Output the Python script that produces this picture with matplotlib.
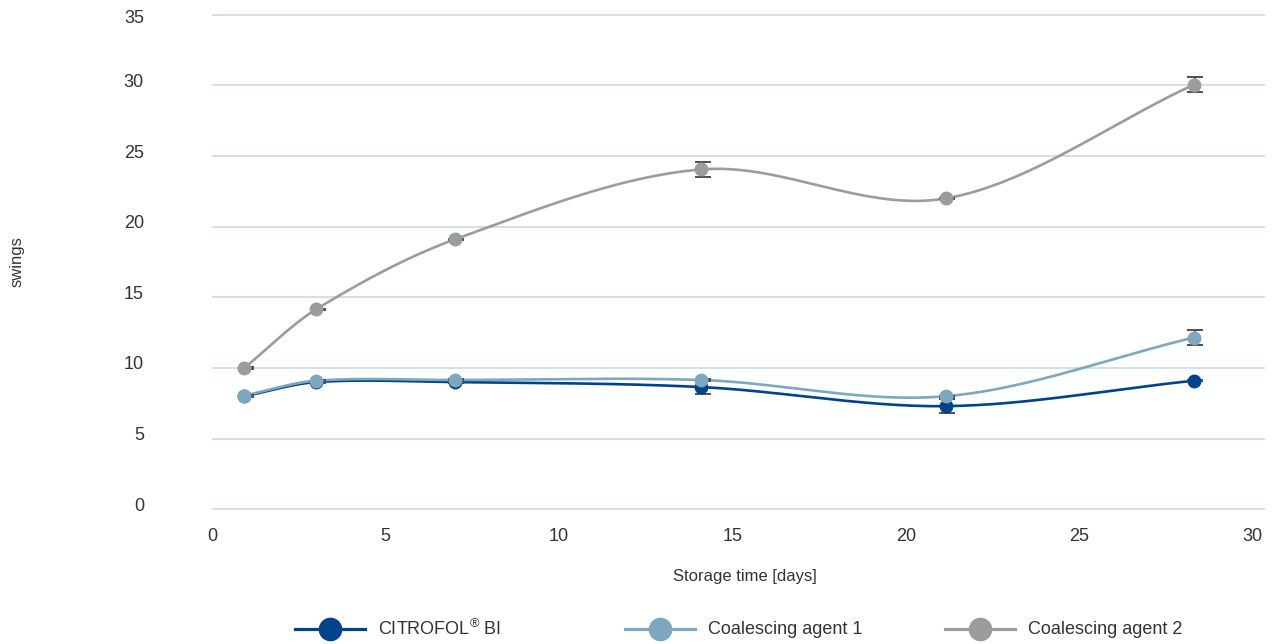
import numpy as np
import matplotlib
matplotlib.use("Agg")
import matplotlib.pyplot as plt
from matplotlib.lines import Line2D
from matplotlib.transforms import ScaledTranslation

# values
days = [0.93, 3.0, 7.0, 14.1, 21.15, 28.3]
citrofol = [8.0, 9.0, 9.0, 8.65, 7.3, 9.1]
agent1 = [8.05, 9.1, 9.15, 9.15, 8.0, 12.15]
agent2 = [10.0, 14.15, 19.1, 24.05, 22.0, 30.05]
citrofol_err = [0.05, 0.05, 0.05, 0.5, 0.5, 0.05]
agent1_err = [0.05, 0.05, 0.05, 0.05, 0.05, 0.55]
agent2_err = [0.05, 0.05, 0.05, 0.55, 0.05, 0.55]
names = ['CITROFOL$^{®}$ BI', 'Coalescing agent 1', 'Coalescing agent 2']
colors = ['#00438a', '#7ea8bf', '#9a9c9d']

plt.rcParams['font.family'] = ['Liberation Sans', 'DejaVu Sans']
plt.rcParams['mathtext.fontset'] = 'custom'
plt.rcParams['mathtext.rm'] = 'Liberation Sans'
plt.rcParams['mathtext.default'] = 'regular'

TEXT = '#333333'
W, H = 1279, 644


def smooth(x, y, n=50):
    # cubic hermite spline with catmull-rom style tangents
    x = np.asarray(x, float)
    y = np.asarray(y, float)
    m = np.empty_like(y)
    m[1:-1] = (y[2:] - y[:-2]) / (x[2:] - x[:-2])
    m[0] = (y[1] - y[0]) / (x[1] - x[0])
    m[-1] = (y[-1] - y[-2]) / (x[-1] - x[-2])
    t = np.linspace(0, 1, n)
    h00 = 2*t**3 - 3*t**2 + 1
    h10 = t**3 - 2*t**2 + t
    h01 = -2*t**3 + 3*t**2
    h11 = t**3 - t**2
    xs, ys = [], []
    for i in range(len(x) - 1):
        h = x[i+1] - x[i]
        xs.append(x[i] + t*h)
        ys.append(h00*y[i] + h10*h*m[i] + h01*y[i+1] + h11*h*m[i+1])
    return np.concatenate(xs), np.concatenate(ys)


fig = plt.figure(figsize=(W/100, H/100), dpi=100)
ax = fig.add_axes([212/W, 1 - 510/H, (1265-212)/W, (510-14)/H])

series = [citrofol, agent1, agent2]
errors = [citrofol_err, agent1_err, agent2_err]
eb_shift = ax.transData + ScaledTranslation(1.5/100, 0, fig.dpi_scale_trans)

for vals, err, c in zip(series, errors, colors):
    sx, sy = smooth(days, vals)
    ax.plot(sx, sy, color=c, lw=1.9, zorder=2, solid_capstyle='round')
    ax.errorbar(days, vals, yerr=err, fmt='none', ecolor='#4d4f51',
                elinewidth=1.4, capsize=5.5, capthick=1.4, zorder=2.5,
                transform=eb_shift)
for vals, c in zip(series, colors):
    ax.plot(days, vals, 'o', color=c, ms=9, mec=c, zorder=3)

yticks = list(range(0, 36, 5))
ax.set_xlim(0, 30.35)
ax.set_ylim(-0.05, 35.05)
ax.set_xticks(range(0, 31, 5))
ax.set_yticks(yticks)
ax.grid(axis='y', color='#c8dae6', lw=1.2)
ax.set_axisbelow(True)
for s in ax.spines.values():
    s.set_visible(False)
ax.tick_params(length=0, labelsize=13, labelcolor=TEXT)
ax.tick_params(axis='y', pad=49)
ax.tick_params(axis='x', pad=13)

# y labels sit a little above their grid lines (top one pushed down)
for i, lab in enumerate(ax.get_yticklabels()):
    dy = -2 if i == len(yticks) - 1 else 5
    lab.set_transform(lab.get_transform() +
                      ScaledTranslation(0, dy/100, fig.dpi_scale_trans))

fig.text(17/W, 1 - 262/H, 'swings', rotation=90, ha='center', va='center',
         fontsize=12, color=TEXT)
fig.text(745/W, 1 - 576/H, 'Storage time [days]', ha='center', va='center',
         fontsize=12, color=TEXT)

# legend drawn by hand along the bottom
ly = 1 - 629/H
for x0, name, c in zip([295, 625, 945], names, colors):
    fig.add_artist(Line2D([x0/W, (x0+70)/W], [ly, ly], transform=fig.transFigure,
                          color=c, lw=2.3))
    fig.add_artist(Line2D([(x0+35)/W], [ly], transform=fig.transFigure,
                          marker='o', ms=16, color=c, mec=c))
    fig.text((x0+83)/W, ly, name, va='center', ha='left', fontsize=13, color=TEXT)

fig.savefig('out.png', dpi=100)
